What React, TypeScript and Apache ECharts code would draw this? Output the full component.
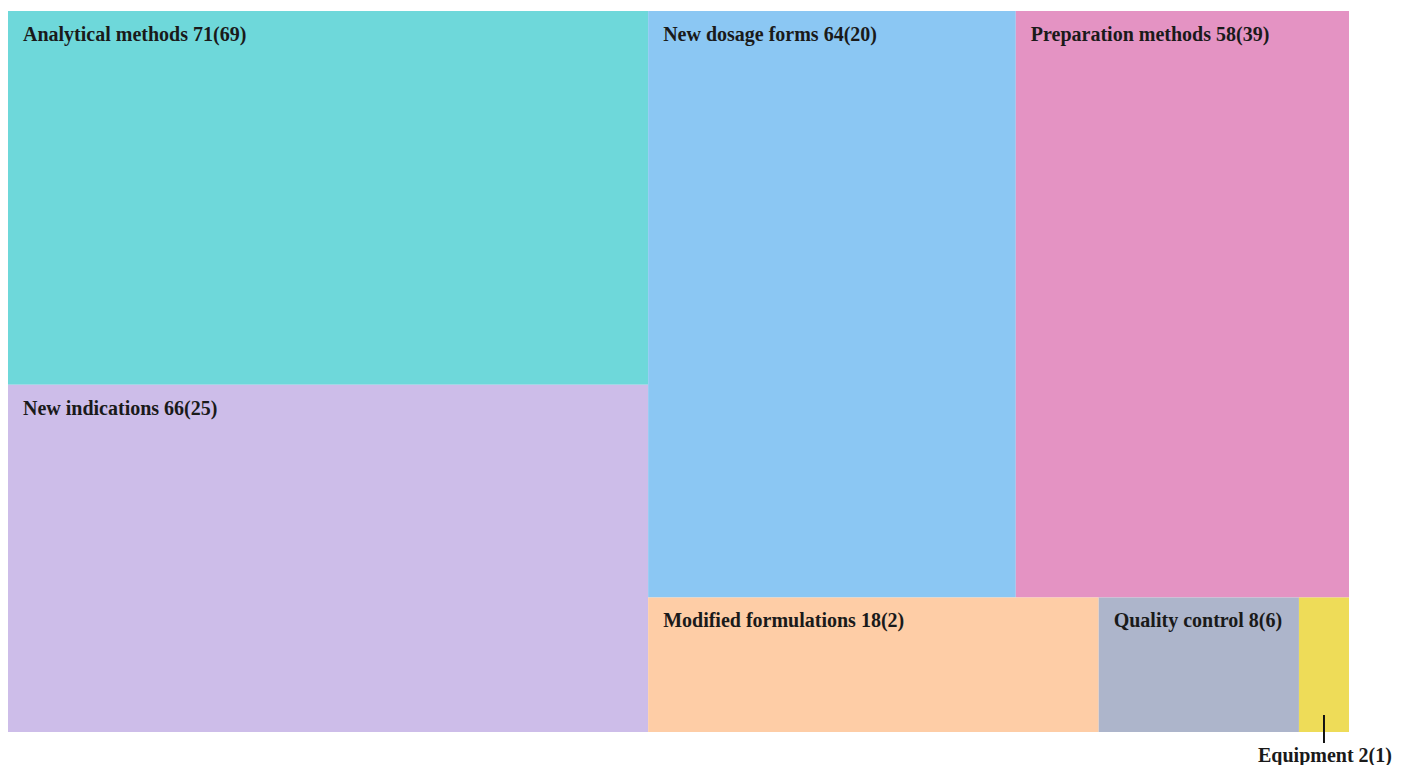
import React, { useEffect, useRef } from "react";
import * as echarts from "echarts";

const categories = [
  "Analytical methods",
  "New indications",
  "New dosage forms",
  "Preparation methods",
  "Modified formulations",
  "Quality control",
  "Equipment",
];
const totals = [71, 66, 64, 58, 18, 8, 2];
const subCounts = [69, 25, 20, 39, 2, 6, 1];
const colors = ["#6ED8DA", "#CDBDE9", "#8BC7F3", "#E493C3", "#FECDA6", "#ADB5CB", "#EEDC58"];
const outsideLabelCategory = "Equipment";

const FONT = '"Liberation Serif", "Times New Roman", serif';

export default function App() {
  const ref = useRef<HTMLDivElement>(null);
  useEffect(() => {
    if (!ref.current) return;
    const chart = echarts.init(ref.current, null, { renderer: "svg" });
    const data = categories.map((name, i) => ({
      name,
      value: totals[i],
      sub: subCounts[i],
      itemStyle: { color: colors[i] },
      label: { show: name !== outsideLabelCategory },
    }));
    const seriesLeft = 0;
    const seriesTop = 3;
    chart.setOption({
      animation: false,
      series: [
        {
          type: "treemap",
          left: seriesLeft,
          top: seriesTop,
          width: 1341,
          height: 721,
          roam: false,
          nodeClick: false,
          breadcrumb: { show: false },
          itemStyle: { borderWidth: 0, gapWidth: 0 },
          label: {
            show: true,
            position: "insideTopLeft",
            padding: [13, 14, 0, 15],
            color: "#1a1a1a",
            fontFamily: FONT,
            fontWeight: "bold",
            fontSize: 20,
            formatter: (p: any) => `${p.name} ${p.value}(${p.data.sub})`,
          },
          data,
        },
      ],
    });

    // place the outside label for the small node using the computed layout
    try {
      const series: any = (chart as any).getModel().getSeriesByIndex(0);
      const tree = series.getData().tree;
      const layoutInfo = series.layoutInfo || { x: seriesLeft, y: seriesTop };
      const node = tree.root.children.find((n: any) => n.name === outsideLabelCategory);
      const lay = node.getLayout();
      const idx = categories.indexOf(outsideLabelCategory);
      const cx = layoutInfo.x + lay.x + lay.width / 2;
      const bottom = layoutInfo.y + lay.y + lay.height;
      chart.setOption({
        graphic: [
          {
            type: "line",
            z: 100,
            shape: { x1: cx, y1: bottom - 17, x2: cx, y2: bottom + 11 },
            style: { stroke: "#111", lineWidth: 2 },
          },
          {
            type: "text",
            z: 100,
            x: cx + 1,
            y: bottom + 23,
            style: {
              text: `${outsideLabelCategory} ${totals[idx]}(${subCounts[idx]})`,
              fill: "#1a1a1a",
              font: `bold 20px ${FONT}`,
              align: "center",
              verticalAlign: "middle",
            },
          },
        ],
      });
    } catch (e) {
      // ignore
    }
    return () => chart.dispose();
  }, []);
  return <div ref={ref} style={{ width: 1385, height: 757 }} />;
}
